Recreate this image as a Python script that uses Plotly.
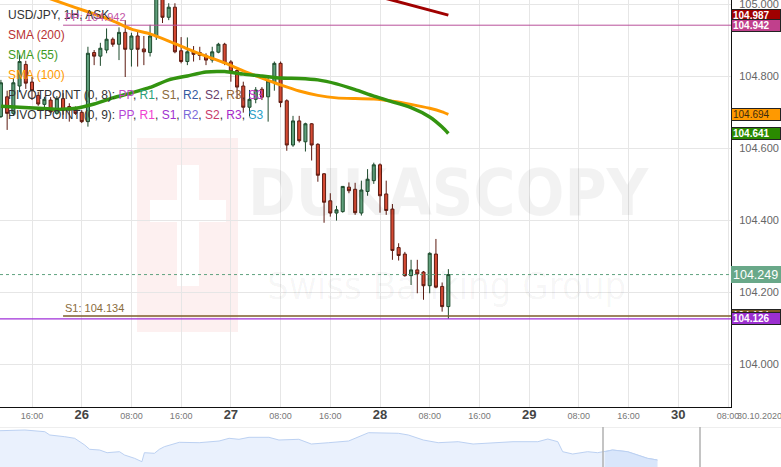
import pandas as pd
import plotly.graph_objects as go

# USD/JPY, 1H, ASK candles from 25.10.2020 11:00 to 28.10.2020 11:00
times = pd.date_range("2020-10-25 11:00", periods=73, freq="h")

opens = [104.688, 104.743, 104.697, 104.773, 104.833, 104.784, 104.747, 104.722, 104.734, 104.697,
         104.738, 104.716, 104.709, 104.700, 104.674, 104.866, 104.856, 104.873, 104.903, 104.889,
         104.922, 104.875, 104.912, 104.876, 104.866, 104.910, 105.020, 104.964, 104.992, 104.871,
         104.841, 104.868, 104.866, 104.858, 104.845, 104.867, 104.889, 104.840, 104.816, 104.773,
         104.714, 104.736, 104.764, 104.743, 104.782, 104.836, 104.732, 104.609, 104.676, 104.618,
         104.668, 104.611, 104.529, 104.454, 104.420, 104.424, 104.492, 104.486, 104.420, 104.480,
         104.510, 104.554, 104.473, 104.431, 104.324, 104.306, 104.246, 104.262, 104.256, 104.218,
         104.306, 104.216, 104.160]
highs = [104.790, 104.760, 104.795, 104.859, 104.843, 104.798, 104.757, 104.743, 104.742, 104.745,
         104.753, 104.725, 104.716, 104.706, 104.882, 104.873, 104.893, 104.933, 104.908, 104.936,
         104.956, 104.921, 104.923, 104.912, 104.943, 105.054, 105.040, 105.003, 105.003, 104.909,
         104.908, 104.884, 104.882, 104.864, 104.882, 104.893, 104.893, 104.845, 104.822, 104.785,
         104.762, 104.770, 104.770, 104.801, 104.841, 104.841, 104.736, 104.690, 104.690, 104.671,
         104.670, 104.614, 104.531, 104.475, 104.440, 104.495, 104.505, 104.504, 104.510, 104.542,
         104.560, 104.558, 104.510, 104.445, 104.336, 104.312, 104.290, 104.290, 104.259, 104.311,
         104.348, 104.227, 104.264]
lows = [104.684, 104.651, 104.690, 104.756, 104.765, 104.734, 104.718, 104.712, 104.697, 104.693,
        104.693, 104.674, 104.693, 104.670, 104.660, 104.831, 104.829, 104.864, 104.882, 104.845,
        104.798, 104.827, 104.827, 104.831, 104.855, 104.901, 104.948, 104.956, 104.864, 104.836,
        104.831, 104.841, 104.845, 104.831, 104.838, 104.864, 104.831, 104.785, 104.739, 104.699,
        104.688, 104.725, 104.734, 104.674, 104.760, 104.714, 104.593, 104.604, 104.616, 104.591,
        104.566, 104.507, 104.393, 104.410, 104.399, 104.421, 104.475, 104.415, 104.413, 104.468,
        104.501, 104.421, 104.415, 104.290, 104.288, 104.243, 104.220, 104.197, 104.179, 104.197,
        104.211, 104.146, 104.126]
closes = [104.782, 104.697, 104.782, 104.841, 104.781, 104.760, 104.723, 104.736, 104.701, 104.738,
          104.706, 104.706, 104.697, 104.674, 104.864, 104.856, 104.878, 104.903, 104.889, 104.922,
          104.875, 104.912, 104.875, 104.868, 104.912, 105.026, 104.964, 104.992, 104.868, 104.841,
          104.868, 104.861, 104.858, 104.845, 104.868, 104.889, 104.836, 104.813, 104.770, 104.714,
          104.736, 104.762, 104.742, 104.787, 104.836, 104.727, 104.609, 104.676, 104.621, 104.668,
          104.609, 104.525, 104.450, 104.420, 104.429, 104.494, 104.482, 104.421, 104.484, 104.514,
          104.554, 104.468, 104.427, 104.316, 104.302, 104.246, 104.262, 104.251, 104.218, 104.308,
          104.214, 104.160, 104.249]

# moving averages, read every 3rd candle (+ the last two)
sma_idx = list(range(0, 72, 3)) + [71, 72]
sma100 = [105.065, 105.045, 105.027, 105.009, 104.991, 104.973, 104.954, 104.931, 104.918, 104.898,
          104.876, 104.856, 104.837, 104.815, 104.795, 104.776, 104.759, 104.747, 104.740, 104.738,
          104.737, 104.731, 104.722, 104.711, 104.701, 104.694]
sma55 = [104.717, 104.714, 104.711, 104.708, 104.711, 104.723, 104.740, 104.754, 104.769, 104.790,
         104.801, 104.812, 104.813, 104.806, 104.801, 104.795, 104.794, 104.790, 104.779, 104.763,
         104.745, 104.729, 104.713, 104.687, 104.659, 104.641]
sma200_idx = [57, 60, 63, 66, 69, 71, 72]
sma200 = [105.039, 105.025, 105.012, 104.998, 104.984, 104.975, 104.970]

pp = 104.942
s1 = 104.134
s1_b = 104.126
last_price = 104.249
pivot_start = "2020-10-25 21:00"
x_start, x_end = "2020-10-25 10:51", "2020-10-30 08:29"

# navigator (longer history), position along the strip / height of line
nav_x = [0, 24.9, 44.8, 49.8, 64.7, 74.7, 84.7, 89.6, 99.6, 107.1, 119.5, 124.5, 134.5, 141.9,
         144.4, 154.4, 159.4, 164.3, 179.3, 199.2, 219.1, 229.1, 239, 249, 268.9, 278.9, 298.8,
         311.3, 328.7, 348.6, 368.5, 398.4, 408.4, 423.3, 438.2, 458.2, 473.1, 488, 513, 537.8,
         547.8, 557.8, 562.7, 572.7, 587.6, 597.6, 605.1, 612.5, 627.5, 637.5, 647.4, 657.4]
nav_y = [36.3, 37, 35.3, 32, 30.3, 28.7, 22, 17.7, 17, 14.3, 15.3, 12, 8.7, 5.3,
         14.3, 13.7, 17.7, 20.3, 24.7, 24.3, 26, 28.7, 27.7, 29.7, 29.7, 27, 27.7,
         23, 24.3, 26, 34.3, 33.7, 32, 27, 24.3, 25.3, 23, 23.7, 25.3, 25.3,
         28, 25.3, 15.3, 13, 15.3, 14.3, 15.3, 17, 15.3, 12, 8.7, 7]
nav_window = [603, 700]

FONT = "Liberation Sans, Arial, sans-serif"
W, H = 781, 467
PX = 731 / W

fig = go.Figure()

# price lines
fig.add_trace(go.Scatter(x=[x_start, x_end], y=[last_price] * 2, mode="lines",
                         line=dict(color="#5fa37f", width=1, dash="3px,3px"), hoverinfo="skip"))
fig.add_trace(go.Scatter(x=[pivot_start, x_end], y=[pp] * 2, mode="lines",
                         line=dict(color="#b9509a", width=1), hoverinfo="skip"))
fig.add_trace(go.Scatter(x=[pivot_start, x_end], y=[s1] * 2, mode="lines",
                         line=dict(color="#7d5c2a", width=1.5), hoverinfo="skip"))
fig.add_trace(go.Scatter(x=[x_start, x_end], y=[s1_b] * 2, mode="lines",
                         line=dict(color="#a030d8", width=1.2), hoverinfo="skip"))

fig.add_trace(go.Candlestick(
    x=times, open=opens, high=highs, low=lows, close=closes,
    increasing=dict(fillcolor="#5f9f7b", line=dict(color="#1d4a2c", width=1)),
    decreasing=dict(fillcolor="#d54a33", line=dict(color="#5c1a10", width=1)),
    whiskerwidth=0, hoverinfo="skip",
))

fig.add_trace(go.Scatter(x=times[sma_idx], y=sma100, mode="lines",
                         line=dict(color="#ff9900", width=3, shape="spline", smoothing=0.6),
                         hoverinfo="skip"))
fig.add_trace(go.Scatter(x=times[sma_idx], y=sma55, mode="lines",
                         line=dict(color="#339410", width=3.5, shape="spline", smoothing=0.6),
                         hoverinfo="skip"))
fig.add_trace(go.Scatter(x=times[sma200_idx], y=sma200, mode="lines",
                         line=dict(color="#a00000", width=3), hoverinfo="skip"))

# navigator
fig.add_trace(go.Scatter(x=nav_x, y=nav_y, xaxis="x2", yaxis="y2", mode="lines", fill="tozeroy",
                         fillcolor="#eaf1fd", line=dict(color="#bcd1f2", width=1), hoverinfo="skip"))
sel = [i for i, v in enumerate(nav_x) if v >= nav_window[0]]
fig.add_trace(go.Scatter(x=[nav_x[i] for i in sel], y=[nav_y[i] for i in sel], xaxis="x2", yaxis="y2",
                         mode="lines", fill="tozeroy", fillcolor="#d9e6fb",
                         line=dict(color="#bcd1f2", width=1), hoverinfo="skip"))

tick_times = pd.date_range("2020-10-25 16:00", "2020-10-30 08:00", freq="8h")
tick_text = []
for t in tick_times:
    if t.hour == 0:
        tick_text.append('<span style="font-size:13px;color:#444"><b>%d</b></span>' % t.day)
    else:
        tick_text.append(t.strftime("%H:%M"))

y_ticks = [104.0, 104.2, 104.4, 104.6, 104.8, 105.0]

shapes = [
    # watermark logo
    dict(type="rect", xref="paper", yref="paper", x0=137 / W, x1=238 / W, y0=1 - 332 / H, y1=1 - 138 / H,
         fillcolor="#fdf0f0", line=dict(width=0), layer="below"),
    dict(type="rect", xref="paper", yref="paper", x0=177 / W, x1=199 / W, y0=1 - 286 / H, y1=1 - 165 / H,
         fillcolor="white", line=dict(width=0), layer="below"),
    dict(type="rect", xref="paper", yref="paper", x0=150 / W, x1=226 / W, y0=1 - 222 / H, y1=1 - 200 / H,
         fillcolor="white", line=dict(width=0), layer="below"),
    # navigator frame
    dict(type="line", xref="x2", yref="y2", x0=0, x1=781, y0=40, y1=40, line=dict(color="#dddddd", width=1)),
    dict(type="line", xref="x2", yref="y2", x0=nav_window[0], x1=nav_window[0], y0=0, y1=40,
         line=dict(color="#b0b0b0", width=1.5)),
    dict(type="line", xref="x2", yref="y2", x0=nav_window[1], x1=nav_window[1], y0=0, y1=40,
         line=dict(color="#b0b0b0", width=1.5)),
]

annotations = []


def legend_line(text, ypx):
    annotations.append(dict(xref="paper", yref="paper", x=6 / W, y=1 - ypx / H, xanchor="left",
                            yanchor="middle", showarrow=False, text=text,
                            font=dict(family=FONT, size=12, color="#333")))


def c(t, col):
    return '<span style="color:%s">%s</span>' % (col, t)


legend_line("USD/JPY, 1H, ASK", 15)
legend_line(c("SMA (200)", "#b83232"), 35)
legend_line(c("SMA (55)", "#3e9a1e"), 55)
legend_line(c("SMA (100)", "#ff9a00"), 75)
cols8 = ["#c04cc0", "#2aa07a", "#8a6a3a", "#34589e", "#6a3c6a", "#946434", "#c838c8"]
cols9 = ["#b446d6", "#f040d0", "#a030d0", "#7a6ad8", "#c83a6a", "#a428c8", "#2aa0c8"]
names = ["PP", "R1", "S1", "R2", "S2", "R3", "S3"]
legend_line("PIVOTPOINT (0, 8): " + ", ".join(c(n, k) for n, k in zip(names, cols8)), 95)
legend_line("PIVOTPOINT (0, 9): " + ", ".join(c(n, k) for n, k in zip(names, cols9)), 115)

annotations.append(dict(xref="paper", yref="y", x=63 / W, y=pp, xanchor="left", yanchor="bottom",
                        showarrow=False, text="PP: %.3f" % pp, font=dict(family=FONT, size=11, color="#c456a6")))
annotations.append(dict(xref="paper", yref="y", x=63 / W, y=s1, xanchor="left", yanchor="bottom",
                        showarrow=False, text="S1: %.3f" % s1, font=dict(family=FONT, size=11, color="#8a6c3c")))

# watermark text
annotations.append(dict(xref="paper", yref="paper", x=449 / W, y=1 - 193 / H, showarrow=False,
                        text="<b>DUKASCOPY</b>",
                        font=dict(family="DejaVu Sans Condensed, Liberation Sans Narrow, sans-serif",
                                  size=64, color="rgba(0,0,0,0.05)")))
annotations.append(dict(xref="paper", yref="paper", x=446 / W, y=1 - 286 / H, showarrow=False,
                        text="Swiss Banking Group",
                        font=dict(family="DejaVu Sans Condensed, Liberation Sans Narrow, sans-serif",
                                  size=38, color="rgba(0,0,0,0.04)")))


def tag(y, text, bg, fg, size=10, h=9, border="#222"):
    annotations.append(dict(xref="paper", yref="y", x=PX, y=y, xanchor="left", yanchor="middle",
                            showarrow=False, text=text, bgcolor=bg, bordercolor=border, borderwidth=1,
                            borderpad=1, width=46, height=h, align="left",
                            font=dict(family=FONT, size=size, color=fg)))


tag(104.970, "<b>104.987</b>", "#a00000", "white")
tag(pp, "<b>%.3f</b>" % pp, "#c0408c", "white")
tag(sma100[-1], "%.3f" % sma100[-1], "#ff9900", "#3a2a10")
tag(sma55[-1], "<b>%.3f</b>" % sma55[-1], "#2a8a00", "white")
tag(last_price, "%.3f" % last_price, "#69a889", "white", size=12.5, h=13, border="#69a889")
tag(s1, "%.3f" % s1, "#7a5a20", "white")
tag(s1_b, "<b>%.3f</b>" % s1_b, "#9b2fcf", "white")

annotations.append(dict(xref="paper", yref="paper", x=735 / W, y=1 - 416 / H, xanchor="left",
                        yanchor="middle", showarrow=False, text="30.10.2020",
                        font=dict(family=FONT, size=9, color="#777")))

fig.update_layout(
    width=W, height=H,
    margin=dict(l=0, r=0, t=0, b=0, autoexpand=False),
    paper_bgcolor="white", plot_bgcolor="white",
    showlegend=False,
    shapes=shapes, annotations=annotations,
    xaxis=dict(domain=[0, PX], anchor="y", type="date", range=[x_start, x_end],
               tickvals=tick_times, ticktext=tick_text, ticks="", automargin=False,
               tickfont=dict(family=FONT, size=9, color="#777"),
               showgrid=True, gridcolor="#e6e6e6", gridwidth=1,
               showline=True, linecolor="#111", linewidth=1,
               rangeslider=dict(visible=False), fixedrange=True),
    yaxis=dict(domain=[60 / H, 1], anchor="x", side="right", range=[103.881, 105.012],
               tickvals=y_ticks, ticktext=["%.3f" % v for v in y_ticks], ticks="", automargin=False,
               tickfont=dict(family=FONT, size=11, color="#666"), ticklabelstandoff=5,
               ticklabeloverflow="allow",
               showgrid=True, gridcolor="#e6e6e6", zeroline=False,
               showline=True, linecolor="#111", linewidth=1),
    xaxis2=dict(domain=[0, 1], anchor="y2", range=[0, 781], visible=False),
    yaxis2=dict(domain=[0, 40 / H], anchor="x2", range=[0, 40], visible=False),
)

fig.write_html("out.html", config={"displayModeBar": False},
               post_script="document.body.style.margin='0';")
